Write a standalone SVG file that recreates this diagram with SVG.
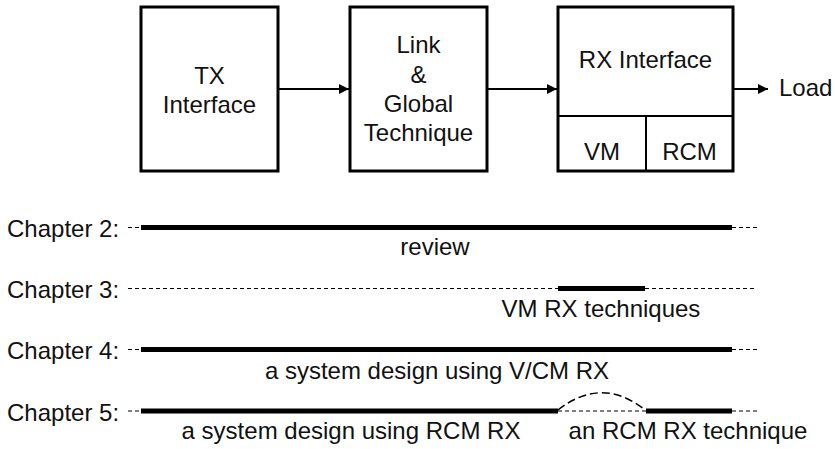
<svg xmlns="http://www.w3.org/2000/svg" width="835" height="449" viewBox="0 0 835 449">
  <style>
    .box { fill: #ffffff; stroke: #000000; stroke-width: 3; }
    .div { stroke: #000000; stroke-width: 2; fill: none; }
    .t { font-family: "Liberation Sans", Arial, sans-serif; font-size: 24px; fill: #111111; }
    .c { text-anchor: middle; }
    .arrow { stroke: #000000; stroke-width: 2; fill: none; marker-end: url(#head); }
    .thick { stroke: #000000; stroke-width: 5; fill: none; }
    .dash { stroke: #000000; stroke-width: 1; stroke-dasharray: 4 3; fill: none; }
    .arc { stroke: #000000; stroke-width: 1.5; stroke-dasharray: 8 4; fill: none; }
  </style>
  <defs>
    <marker id="head" viewBox="0 0 10 10" refX="10" refY="5" markerWidth="5" markerHeight="5" markerUnits="strokeWidth" orient="auto">
      <path d="M0,0 L10,5 L0,10 z" fill="#000000"/>
    </marker>
  </defs>
  <rect width="835" height="449" fill="#ffffff"/>

  <!-- block chain -->
  <g id="tx">
    <rect class="box" x="141" y="7" width="137" height="164"/>
    <text class="t c" x="209.5" y="84">TX</text>
    <text class="t c" x="209.5" y="113">Interface</text>
  </g>
  <g id="link">
    <rect class="box" x="350" y="7" width="137" height="164"/>
    <text class="t c" x="418.5" y="53">Link</text>
    <text class="t c" x="418.5" y="83">&amp;</text>
    <text class="t c" x="418.5" y="112">Global</text>
    <text class="t c" x="418.5" y="141">Technique</text>
  </g>
  <g id="rx">
    <rect class="box" x="558" y="7" width="175" height="164"/>
    <line class="div" x1="558" y1="116" x2="733" y2="116"/>
    <line class="div" x1="646" y1="116" x2="646" y2="171"/>
    <text class="t c" x="645.5" y="68">RX Interface</text>
    <text class="t c" x="602" y="160">VM</text>
    <text class="t c" x="689.5" y="160">RCM</text>
  </g>
  <g id="load">
    <text class="t" x="779" y="96">Load</text>
  </g>

  <g id="connectors">
    <line class="arrow" x1="279" y1="89" x2="349" y2="89"/>
    <line class="arrow" x1="488" y1="89" x2="557" y2="89"/>
    <line class="arrow" x1="734" y1="89" x2="768" y2="89"/>
  </g>

  <!-- chapter timelines -->
  <g id="ch2">
    <text class="t" x="7" y="237">Chapter 2:</text>
    <line class="dash" x1="128" y1="227.5" x2="141" y2="227.5"/>
    <line class="thick" x1="141" y1="227.5" x2="732" y2="227.5"/>
    <line class="dash" x1="732" y1="227.5" x2="757" y2="227.5"/>
    <text class="t c" x="435" y="255">review</text>
  </g>
  <g id="ch3">
    <text class="t" x="7" y="298">Chapter 3:</text>
    <line class="dash" x1="128" y1="288.5" x2="558" y2="288.5"/>
    <line class="thick" x1="558" y1="288.5" x2="645" y2="288.5"/>
    <line class="dash" x1="645" y1="288.5" x2="757" y2="288.5"/>
    <text class="t c" x="601" y="317">VM RX techniques</text>
  </g>
  <g id="ch4">
    <text class="t" x="7" y="359">Chapter 4:</text>
    <line class="dash" x1="128" y1="349.5" x2="141" y2="349.5"/>
    <line class="thick" x1="141" y1="349.5" x2="732" y2="349.5"/>
    <line class="dash" x1="732" y1="349.5" x2="757" y2="349.5"/>
    <text class="t c" x="437" y="379">a system design using V/CM RX</text>
  </g>
  <g id="ch5">
    <text class="t" x="7" y="421">Chapter 5:</text>
    <line class="dash" x1="128" y1="411" x2="141" y2="411"/>
    <line class="thick" x1="141" y1="411" x2="558" y2="411"/>
    <line class="dash" x1="558" y1="411" x2="646" y2="411"/>
    <path class="arc" d="M558,410 Q601,376 644,409"/>
    <line class="thick" x1="646" y1="411" x2="732" y2="411"/>
    <line class="dash" x1="732" y1="411" x2="757" y2="411"/>
    <text class="t c" x="351" y="439">a system design using RCM RX</text>
    <text class="t c" x="688" y="439">an RCM RX technique</text>
  </g>
</svg>
